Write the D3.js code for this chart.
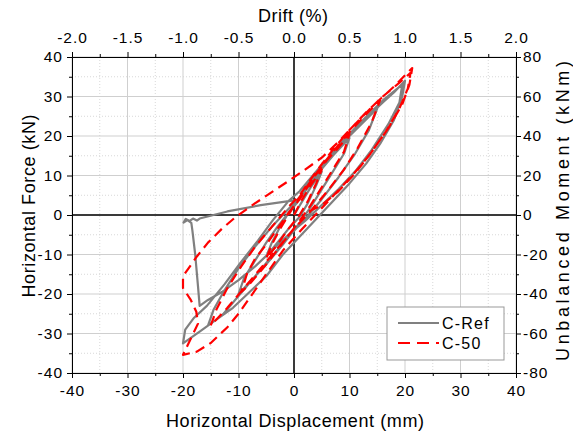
<!DOCTYPE html>
<html>
<head>
<meta charset="utf-8">
<script src="https://cdn.jsdelivr.net/npm/d3@7"></script>
<style>
  body { margin: 0; background: #fff; }
  text { font-family: "Liberation Sans", Arial, sans-serif; fill: #000; }
</style>
</head>
<body>
<div id="chart"></div>
<script>
/* global d3*/

// C-Ref, gray solid (displacement mm, force kN)
let cRefDisp = [0, 1.5, 3, 5, 4, 2.5, 1, -1, -3, -5, -4, -2.5, -1, 0.5,
  3, 6, 8, 10, 9, 7, 5, 3, 1, -2, -5, -8, -10, -9, -7, -5, -3, -1, 1,
  4, 7, 10, 12.5, 15, 13.5, 11, 8, 5, 2, -1, -4, -7, -10, -13, -15.5, -14.5, -12.5, -10, -7, -4, -1, 1,
  4, 7, 10, 13, 16, 18, 20, 19.5, 18, 15.5, 13, 10, 7, 4, 1, -2, -5, -8, -11, -14, -17, -20,
  -19.6, -18, -15.7, -12.5, -9.7, -6.5, -3.8, -1, 1,
  4, 8, 12, 16, 19.5, 19, 17, 14, 11, 8, 5, 2, -1, -4, -7, -10, -13, -15.5, -17,
  -17.3, -17.8, -18.3, -18.5, -19.2, -19.9, -19.5, -18.8, -18.2, -17.5, -17, -12, -6, 0];
let cRefForce = [0, 3.5, 7, 11, 7.5, 3, -0.5, -3.5, -7, -10.5, -7, -3, 0.5, 3,
  8, 13.5, 16.5, 19.5, 15.5, 11, 6.5, 2, -2, -7.5, -12.5, -17, -20, -16, -11.5, -7, -3, 0.5, 4,
  10, 15, 20, 23.5, 27, 21.5, 15.5, 9.5, 4, -1, -5.5, -10.5, -15.5, -20.5, -25.5, -28, -24, -19, -13.5, -8, -3, 1.5, 4.5,
  11, 15.5, 20, 24.5, 28.5, 31, 34, 30, 24, 18, 13, 8, 3.5, -1, -5.5, -10, -15.5, -19.5, -23.5, -26.5, -29.5, -32.5,
  -29, -26, -23, -17.5, -12.2, -6.5, -1.3, 3.5, 6,
  11, 17.5, 23.5, 29, 33, 28.5, 23, 16.5, 11, 6.5, 2.5, -1.5, -5, -9, -13, -16.5, -19.5, -21.5, -23,
  -18, -10, -4, -2, -1.3, -1.9, -1, -1.5, -0.9, -1.4, -0.9, 0.9, 2.5, 3.7];

// C-50, red dashed
let c50Disp = [0, 1.5, 3, 5, 4, 2.5, 1, -1, -3, -5, -4, -2.5, -1, 0.5,
  3, 6, 8, 10, 9, 7, 5, 3, 1, -2, -5, -8, -9.5, -8.5, -7, -5, -3, -1, 1,
  4, 7, 10, 13, 15.5, 14, 11.5, 9, 6, 3, 0, -3, -6, -9, -12, -15, -14, -12, -9.5, -7, -4, -1, 1,
  4, 7, 10, 13, 16, 19, 21, 20.5, 19, 16.5, 13.5, 10.5, 7.5, 4.5, 1.5, -2, -5, -8, -10, -12, -15, -17.5, -20,
  -18.5, -17.3, -17.6, -18.6, -20, -20, -19, -17.5, -15.5, -13, -10.5, -7.5, -4, -1, 2, 5, 8, 11, 14.5, 18, 21.3,
  20.8, 19.5, 17, 14, 11, 8, 5, 2];
let c50Force = [0, 4, 7.5, 11.5, 8, 3.5, 0, -3.5, -7.5, -11, -7.5, -3.5, 0, 3.5,
  8.5, 14, 17, 20.5, 16, 11.5, 7, 2.5, -1.5, -7, -12.5, -17.5, -19.5, -15, -11, -7.5, -3.5, 0.5, 4,
  10.5, 16, 21, 25.5, 29, 23.5, 17, 11.5, 6, 1, -3.5, -8.5, -13.5, -18.5, -23.5, -28, -24, -18.5, -13, -8, -3, 2, 5,
  11, 16.5, 21.5, 26, 30, 33.5, 36, 32, 27, 21, 15, 10, 5.5, 1, -3.5, -9, -15, -21, -25, -28.4, -32.4, -34.6, -35.4,
  -31, -27.5, -24.5, -21.5, -18.5, -15.5, -13.5, -10.5, -7, -3.5, -0.5, 2.5, 5.8, 8.6, 11.5, 14.5, 18.5, 23, 28, 32.5, 37.2,
  33, 28, 22, 16, 10.5, 6, 2.5, 0.5];

let dispTicks = [-40, -30, -20, -10, 0, 10, 20, 30, 40];
let forceTicks = [-40, -30, -20, -10, 0, 10, 20, 30, 40];
let driftTicks = [-2.0, -1.5, -1.0, -0.5, 0.0, 0.5, 1.0, 1.5, 2.0];
let momentTicks = [-80, -60, -40, -20, 0, 20, 40, 60, 80];
let seriesNames = ['C-Ref', 'C-50'];

function plot(width, height) {

  let margin = { top: 57, right: 57, bottom: 62, left: 72 };
  let w = width - margin.left - margin.right;
  let h = height - margin.top - margin.bottom;

  // scales
  let xScale = d3.scaleLinear().domain([-40, 40]).range([0, w]);
  let yScale = d3.scaleLinear().domain([-40, 40]).range([h, 0]);
  let driftScale = d3.scaleLinear().domain([-2, 2]).range([0, w]);
  let momentScale = d3.scaleLinear().domain([-80, 80]).range([h, 0]);

  let svg = d3.select('#chart')
    .append('svg')
    .attr('width', width)
    .attr('height', height)
    .append('g')
    .attr('transform', 'translate(' + margin.left + ',' + margin.top + ')');

  // minor grid (dotted) then major grid
  let minor = d3.range(-35, 40, 10);
  svg.selectAll('line.minorX')
    .data(minor)
    .enter()
    .append('line')
    .attr('x1', d => xScale(d)).attr('x2', d => xScale(d))
    .attr('y1', 0).attr('y2', h)
    .attr('stroke', '#d8d8d8')
    .attr('stroke-dasharray', '1,2');
  svg.selectAll('line.minorY')
    .data(minor)
    .enter()
    .append('line')
    .attr('y1', d => yScale(d)).attr('y2', d => yScale(d))
    .attr('x1', 0).attr('x2', w)
    .attr('stroke', '#d8d8d8')
    .attr('stroke-dasharray', '1,2');
  svg.selectAll('line.majorX')
    .data(dispTicks)
    .enter()
    .append('line')
    .attr('x1', d => xScale(d)).attr('x2', d => xScale(d))
    .attr('y1', 0).attr('y2', h)
    .attr('stroke', '#cfcfcf');
  svg.selectAll('line.majorY')
    .data(forceTicks)
    .enter()
    .append('line')
    .attr('y1', d => yScale(d)).attr('y2', d => yScale(d))
    .attr('x1', 0).attr('x2', w)
    .attr('stroke', '#cfcfcf');

  // zero lines
  svg.append('line')
    .attr('x1', xScale(0)).attr('x2', xScale(0))
    .attr('y1', 0).attr('y2', h)
    .attr('stroke', 'black').attr('stroke-width', 1.5);
  svg.append('line')
    .attr('x1', 0).attr('x2', w)
    .attr('y1', yScale(0)).attr('y2', yScale(0))
    .attr('stroke', 'black').attr('stroke-width', 1.5);

  // curves
  let line = d3.line()
    .x(d => xScale(d[0]))
    .y(d => yScale(d[1]));
  let cRef = cRefDisp.map((d, i) => [d, cRefForce[i]]);
  let c50 = c50Disp.map((d, i) => [d, c50Force[i]]);

  svg.append('path')
    .datum(cRef)
    .attr('d', line)
    .attr('fill', 'none')
    .attr('stroke', '#808080')
    .attr('stroke-width', 2.2)
    .attr('stroke-linejoin', 'round');
  svg.append('path')
    .datum(c50)
    .attr('d', line)
    .attr('fill', 'none')
    .attr('stroke', '#ff0000')
    .attr('stroke-width', 2.2)
    .attr('stroke-dasharray', '10,6')
    .attr('stroke-linejoin', 'round');

  // axes, major + minor ticks (plain hyphen for minus, like the original)
  let intFmt = d => String(d);
  let fmt1 = d => d.toFixed(1);
  let styleAxis = function(g) {
    g.selectAll('text')
      .style('font-size', '15.5px')
      .style('letter-spacing', '1px')
      .attr('fill', '#000');
    g.selectAll('line').attr('stroke', '#000');
    g.select('.domain').attr('stroke', '#000');
  };

  svg.append('g')
    .attr('transform', 'translate(0,' + h + ')')
    .call(d3.axisBottom(xScale).tickValues(d3.range(-35, 40, 10)).tickSize(3).tickSizeOuter(0).tickFormat(''))
    .call(styleAxis);
  svg.append('g')
    .attr('transform', 'translate(0,' + h + ')')
    .call(d3.axisBottom(xScale).tickValues(dispTicks).tickSize(5).tickSizeOuter(0).tickPadding(7).tickFormat(intFmt))
    .call(styleAxis);

  svg.append('g')
    .call(d3.axisTop(driftScale).tickValues(d3.range(-1.75, 2, 0.5)).tickSize(3).tickSizeOuter(0).tickFormat(''))
    .call(styleAxis);
  svg.append('g')
    .call(d3.axisTop(driftScale).tickValues(driftTicks).tickSize(5).tickSizeOuter(0).tickPadding(9).tickFormat(fmt1))
    .call(styleAxis);

  svg.append('g')
    .call(d3.axisLeft(yScale).tickValues(d3.range(-35, 40, 10)).tickSize(3).tickSizeOuter(0).tickFormat(''))
    .call(styleAxis);
  svg.append('g')
    .call(d3.axisLeft(yScale).tickValues(forceTicks).tickSize(5).tickSizeOuter(0).tickPadding(4).tickFormat(intFmt))
    .call(styleAxis);

  svg.append('g')
    .attr('transform', 'translate(' + w + ',0)')
    .call(d3.axisRight(momentScale).tickValues(d3.range(-70, 80, 20)).tickSize(3).tickSizeOuter(0).tickFormat(''))
    .call(styleAxis);
  svg.append('g')
    .attr('transform', 'translate(' + w + ',0)')
    .call(d3.axisRight(momentScale).tickValues(momentTicks).tickSize(5).tickSizeOuter(0).tickPadding(2).tickFormat(intFmt))
    .call(styleAxis);

  // axis titles
  svg.append('text')
    .attr('x', 223).attr('y', 370)
    .attr('text-anchor', 'middle')
    .attr('textLength', 258)
    .style('font-size', '18px')
    .text('Horizontal Displacement (mm)');
  svg.append('text')
    .attr('x', 221).attr('y', -35)
    .attr('text-anchor', 'middle')
    .attr('textLength', 70)
    .style('font-size', '18px')
    .text('Drift (%)');
  svg.append('text')
    .attr('transform', 'translate(-37,' + (h / 2 - 9) + ') rotate(-90)')
    .attr('text-anchor', 'middle')
    .attr('textLength', 183)
    .style('font-size', '18px')
    .text('Horizontal Force (kN)');
  svg.append('text')
    .attr('transform', 'translate(' + (w + 53) + ',' + (h / 2 - 4) + ') rotate(-90)')
    .attr('text-anchor', 'middle')
    .attr('textLength', 300)
    .style('font-size', '18px')
    .text('Unbalanced Moment (kNm)');

  // legend
  let legend = svg.append('g')
    .attr('transform', 'translate(315,250)');
  legend.append('rect')
    .attr('width', 117).attr('height', 53)
    .attr('fill', 'white')
    .attr('stroke', '#999');
  let legendStyles = [['#808080', null], ['#ff0000', '12,7']];
  legend.selectAll('line.key')
    .data(seriesNames)
    .enter()
    .append('line')
    .attr('x1', 11).attr('x2', 52)
    .attr('y1', (d, i) => 16 + i * 20).attr('y2', (d, i) => 16 + i * 20)
    .attr('stroke', (d, i) => legendStyles[i][0])
    .attr('stroke-width', 2.2)
    .attr('stroke-dasharray', (d, i) => legendStyles[i][1]);
  legend.selectAll('text.key')
    .data(seriesNames)
    .enter()
    .append('text')
    .attr('x', 55)
    .attr('y', (d, i) => 22 + i * 20)
    .style('font-size', '16px')
    .style('letter-spacing', '1.2px')
    .text(d => d);
}

plot(573, 435);
</script>
</body>
</html>
